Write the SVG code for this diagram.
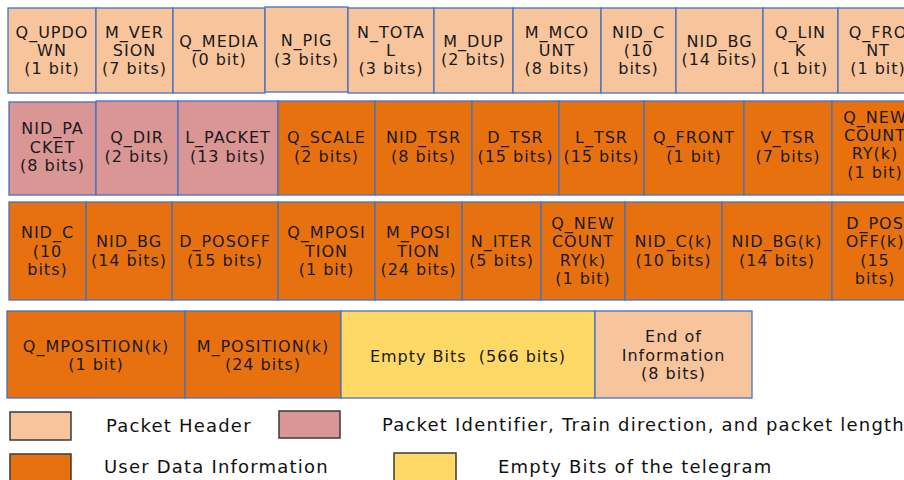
<svg xmlns="http://www.w3.org/2000/svg" width="904" height="480" viewBox="0 0 904 480">
<style>
.c{stroke:#4472C4;stroke-width:1.3}
.hdr{fill:#F8C49C}.pid{fill:#D99694}.usr{fill:#E8710F}.emp{fill:#FFD966}
.lg{stroke:#3a3a3a;stroke-width:1.5}
text{font-family:"DejaVu Sans",Verdana,sans-serif;fill:#1a1a1a}
.t{font-size:16px;letter-spacing:1px;text-anchor:middle}
.l{font-size:18px;letter-spacing:1.2px;fill:#111}
</style>
<rect width="904" height="480" fill="#fff"/>
<g id="row1">
<g id="q_updown"><rect class="c hdr" x="8" y="8" width="88" height="85"/><text class="t"><tspan x="52" y="37.7">Q_UPDO</tspan><tspan x="52" y="56">WN</tspan><tspan x="52" y="74.3">(1 bit)</tspan></text></g>
<g id="m_version"><rect class="c hdr" x="96" y="8" width="77" height="85"/><text class="t"><tspan x="134.5" y="37.7">M_VER</tspan><tspan x="134.5" y="56">SION</tspan><tspan x="134.5" y="74.3">(7 bits)</tspan></text></g>
<g id="q_media"><rect class="c hdr" x="173" y="8" width="92" height="85"/><text class="t"><tspan x="219" y="46.9">Q_MEDIA</tspan><tspan x="219" y="65.2">(0 bit)</tspan></text></g>
<g id="n_pig"><rect class="c hdr" x="265" y="7" width="83" height="85"/><text class="t"><tspan x="306.5" y="46.4">N_PIG</tspan><tspan x="306.5" y="64.7">(3 bits)</tspan></text></g>
<g id="n_total"><rect class="c hdr" x="348" y="8" width="86" height="85"/><text class="t"><tspan x="391" y="37.7">N_TOTA</tspan><tspan x="391" y="56">L</tspan><tspan x="391" y="74.3">(3 bits)</tspan></text></g>
<g id="m_dup"><rect class="c hdr" x="434" y="8" width="79" height="85"/><text class="t"><tspan x="473.5" y="46.9">M_DUP</tspan><tspan x="473.5" y="65.2">(2 bits)</tspan></text></g>
<g id="m_mcount"><rect class="c hdr" x="513" y="8" width="88" height="85"/><text class="t"><tspan x="557" y="37.7">M_MCO</tspan><tspan x="557" y="56">UNT</tspan><tspan x="557" y="74.3">(8 bits)</tspan></text></g>
<g id="nid_c_1"><rect class="c hdr" x="601" y="8" width="75" height="85"/><text class="t"><tspan x="638.5" y="37.7">NID_C</tspan><tspan x="638.5" y="56">(10</tspan><tspan x="638.5" y="74.3">bits)</tspan></text></g>
<g id="nid_bg_1"><rect class="c hdr" x="676" y="8" width="87" height="85"/><text class="t"><tspan x="719.5" y="46.9">NID_BG</tspan><tspan x="719.5" y="65.2">(14 bits)</tspan></text></g>
<g id="q_link"><rect class="c hdr" x="763" y="8" width="75" height="85"/><text class="t"><tspan x="800.5" y="37.7">Q_LIN</tspan><tspan x="800.5" y="56">K</tspan><tspan x="800.5" y="74.3">(1 bit)</tspan></text></g>
<g id="q_front_1"><rect class="c hdr" x="838" y="8" width="80" height="85"/><text class="t"><tspan x="878" y="37.7">Q_FRO</tspan><tspan x="878" y="56">NT</tspan><tspan x="878" y="74.3">(1 bit)</tspan></text></g>
</g>
<g id="row2">
<g id="nid_packet"><rect class="c pid" x="9" y="102" width="87" height="93"/><text class="t"><tspan x="52.5" y="134.2">NID_PA</tspan><tspan x="52.5" y="152.5">CKET</tspan><tspan x="52.5" y="170.8">(8 bits)</tspan></text></g>
<g id="q_dir"><rect class="c pid" x="96" y="101" width="82" height="94"/><text class="t"><tspan x="137" y="143.4">Q_DIR</tspan><tspan x="137" y="161.7">(2 bits)</tspan></text></g>
<g id="l_packet"><rect class="c pid" x="178" y="101" width="100" height="94"/><text class="t"><tspan x="228" y="143.4">L_PACKET</tspan><tspan x="228" y="161.7">(13 bits)</tspan></text></g>
<g id="q_scale"><rect class="c usr" x="278" y="101" width="97" height="94"/><text class="t"><tspan x="326.5" y="143.4">Q_SCALE</tspan><tspan x="326.5" y="161.7">(2 bits)</tspan></text></g>
<g id="nid_tsr"><rect class="c usr" x="375" y="101" width="97" height="94"/><text class="t"><tspan x="423.5" y="143.4">NID_TSR</tspan><tspan x="423.5" y="161.7">(8 bits)</tspan></text></g>
<g id="d_tsr"><rect class="c usr" x="472" y="101" width="87" height="94"/><text class="t"><tspan x="515.5" y="143.4">D_TSR</tspan><tspan x="515.5" y="161.7">(15 bits)</tspan></text></g>
<g id="l_tsr"><rect class="c usr" x="559" y="101" width="85" height="94"/><text class="t"><tspan x="601.5" y="143.4">L_TSR</tspan><tspan x="601.5" y="161.7">(15 bits)</tspan></text></g>
<g id="q_front_2"><rect class="c usr" x="644" y="101" width="100" height="94"/><text class="t"><tspan x="694" y="143.4">Q_FRONT</tspan><tspan x="694" y="161.7">(1 bit)</tspan></text></g>
<g id="v_tsr"><rect class="c usr" x="744" y="101" width="88" height="94"/><text class="t"><tspan x="788" y="143.4">V_TSR</tspan><tspan x="788" y="161.7">(7 bits)</tspan></text></g>
<g id="q_newcountry_1"><rect class="c usr" x="832" y="101" width="86" height="94"/><text class="t"><tspan x="875" y="123.2">Q_NEW</tspan><tspan x="875" y="141.3">COUNT</tspan><tspan x="875" y="159.4">RY(k)</tspan><tspan x="875" y="177.5">(1 bit)</tspan></text></g>
</g>
<g id="row3">
<g id="nid_c_2"><rect class="c usr" x="9" y="202" width="77" height="98"/><text class="t"><tspan x="47.5" y="238.2">NID_C</tspan><tspan x="47.5" y="256.5">(10</tspan><tspan x="47.5" y="274.8">bits)</tspan></text></g>
<g id="nid_bg_2"><rect class="c usr" x="86" y="202" width="86" height="98"/><text class="t"><tspan x="129" y="247.4">NID_BG</tspan><tspan x="129" y="265.7">(14 bits)</tspan></text></g>
<g id="d_posoff"><rect class="c usr" x="172" y="202" width="106" height="98"/><text class="t"><tspan x="225" y="247.4">D_POSOFF</tspan><tspan x="225" y="265.7">(15 bits)</tspan></text></g>
<g id="q_mposition"><rect class="c usr" x="278" y="202" width="97" height="98"/><text class="t"><tspan x="326.5" y="238.2">Q_MPOSI</tspan><tspan x="326.5" y="256.5">TION</tspan><tspan x="326.5" y="274.8">(1 bit)</tspan></text></g>
<g id="m_position"><rect class="c usr" x="375" y="202" width="87" height="98"/><text class="t"><tspan x="418.5" y="238.2">M_POSI</tspan><tspan x="418.5" y="256.5">TION</tspan><tspan x="418.5" y="274.8">(24 bits)</tspan></text></g>
<g id="n_iter"><rect class="c usr" x="462" y="202" width="79" height="98"/><text class="t"><tspan x="501.5" y="247.4">N_ITER</tspan><tspan x="501.5" y="265.7">(5 bits)</tspan></text></g>
<g id="q_newcountry_2"><rect class="c usr" x="541" y="202" width="84" height="98"/><text class="t"><tspan x="583" y="229.1">Q_NEW</tspan><tspan x="583" y="247.4">COUNT</tspan><tspan x="583" y="265.7">RY(k)</tspan><tspan x="583" y="284">(1 bit)</tspan></text></g>
<g id="nid_c_k"><rect class="c usr" x="625" y="202" width="97" height="98"/><text class="t"><tspan x="673.5" y="247.4">NID_C(k)</tspan><tspan x="673.5" y="265.7">(10 bits)</tspan></text></g>
<g id="nid_bg_k"><rect class="c usr" x="722" y="202" width="110" height="98"/><text class="t"><tspan x="777" y="247.4">NID_BG(k)</tspan><tspan x="777" y="265.7">(14 bits)</tspan></text></g>
<g id="d_posoff_k"><rect class="c usr" x="832" y="202" width="86" height="98"/><text class="t"><tspan x="875" y="229.1">D_POS</tspan><tspan x="875" y="247.4">OFF(k)</tspan><tspan x="875" y="265.7">(15</tspan><tspan x="875" y="284">bits)</tspan></text></g>
</g>
<g id="row4">
<g id="q_mposition_k"><rect class="c usr" x="7" y="311" width="178" height="87"/><text class="t"><tspan x="96" y="351.7">Q_MPOSITION(k)</tspan><tspan x="96" y="370.3">(1 bit)</tspan></text></g>
<g id="m_position_k"><rect class="c usr" x="185" y="311" width="156" height="87"/><text class="t"><tspan x="263" y="351.7">M_POSITION(k)</tspan><tspan x="263" y="370.3">(24 bits)</tspan></text></g>
<g id="empty_bits"><rect class="c emp" x="341" y="311" width="254" height="87"/><text class="t" x="468" y="361.5" style="white-space:pre" xml:space="preserve">Empty Bits  (566 bits)</text></g>
<g id="end_of_info"><rect class="c hdr" x="595" y="311" width="157" height="87"/><text class="t"><tspan x="673.5" y="342">End of</tspan><tspan x="673.5" y="360.5">Information</tspan><tspan x="673.5" y="378.5">(8 bits)</tspan></text></g>
</g>
<g id="connectors"/>
<g id="legend">
<g id="lg_header"><rect class="lg hdr" x="10" y="412" width="61" height="28"/><text class="l" x="106" y="432.3">Packet Header</text></g>
<g id="lg_pid"><rect class="lg pid" x="279" y="411" width="61" height="27"/><text class="l" x="382" y="431">Packet Identifier, Train direction, and packet length</text></g>
<g id="lg_user"><rect class="lg usr" x="10" y="454" width="61" height="32"/><text class="l" x="104" y="473.3">User Data Information</text></g>
<g id="lg_empty"><rect class="lg emp" x="394" y="453" width="62" height="32"/><text class="l" x="498" y="473.3">Empty Bits of the telegram</text></g>
</g>
</svg>
